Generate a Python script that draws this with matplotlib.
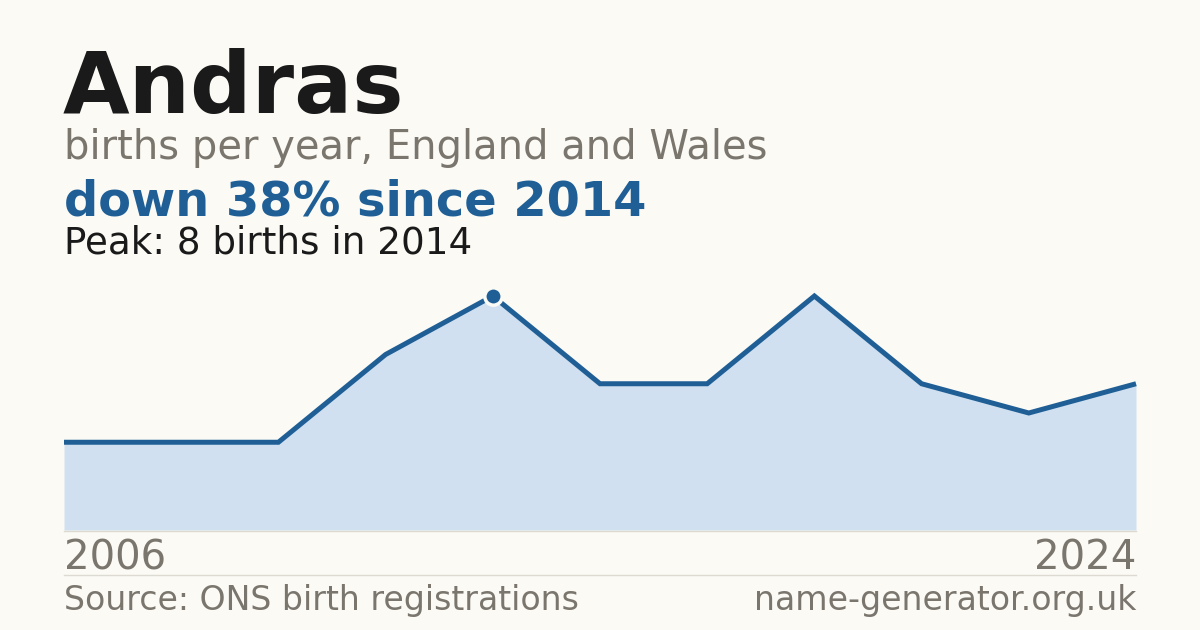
import numpy as np
import matplotlib.pyplot as plt

# data
years = [2006, 2008, 2011, 2013, 2014, 2016, 2017, 2019, 2020, 2022, 2024]
births = [3, 3, 3, 6, 8, 5, 5, 8, 5, 4, 5]
peak_idx = int(np.argmax(births))

bg = "#fbfaf5"
blue = "#1f5f96"
fill = "#d0e0f0"
grey = "#7a766e"
dark = "#1a1a1a"

W, H = 1200, 630
fig = plt.figure(figsize=(12, 6.3), dpi=100, facecolor=bg)

def fx(px):
    return px / W

def fy(py):
    return 1 - py / H

# plot area: x from 64 to 1136, y=0 at 530, y=8 at 296
left, right, base, top = 64, 1136, 530, 296
ax = fig.add_axes([fx(left), fy(base), fx(right - left), (base - top) / H])
xs = np.arange(len(births))
ax.fill_between(xs, births, 0, color=fill, lw=0)
ax.plot(xs, births, color=blue, lw=3.6, solid_joinstyle="miter", solid_capstyle="butt",
        clip_on=False)
ax.plot(xs[peak_idx], births[peak_idx], "o", ms=12.5, color=blue, mec=bg, mew=2.5,
        zorder=5, clip_on=False)
ax.set_xlim(0, len(births) - 1)
ax.set_ylim(0, max(births))
ax.set_axis_off()

# thin rules under the plot and above the footer
fig.add_artist(plt.Line2D([fx(left), fx(right)], [fy(530.5), fy(530.5)], color="#dddad2", lw=1))
fig.add_artist(plt.Line2D([fx(left), fx(right)], [fy(574.5), fy(574.5)], color="#dddad2", lw=1))

# heading texts
fig.text(fx(63), fy(113), "Andras", fontsize=62, fontweight="bold", color=dark, va="baseline")
fig.text(fx(64), fy(159), "births per year, England and Wales", fontsize=28.8, color=grey, va="baseline")
first = births[peak_idx]
last = births[-1]
change = round((first - last) / first * 100)
fig.text(fx(64), fy(215), f"down {change}% since {years[peak_idx]}", fontsize=34.5,
         fontweight="bold", color=blue, va="baseline")
fig.text(fx(64), fy(254), f"Peak: {births[peak_idx]} births in {years[peak_idx]}",
         fontsize=26.8, color=dark, va="baseline")

# year labels
fig.text(fx(64), fy(569), str(years[0]), fontsize=29, color=grey, va="baseline")
fig.text(fx(1136), fy(569), str(years[-1]), fontsize=29, color=grey, va="baseline", ha="right")

# footer
fig.text(fx(64), fy(610), "Source: ONS birth registrations", fontsize=23.9, color=grey, va="baseline")
fig.text(fx(1136), fy(610), "name-generator.org.uk", fontsize=23.9, color=grey, va="baseline", ha="right")

fig.savefig("out.png", dpi=100, facecolor=bg)
